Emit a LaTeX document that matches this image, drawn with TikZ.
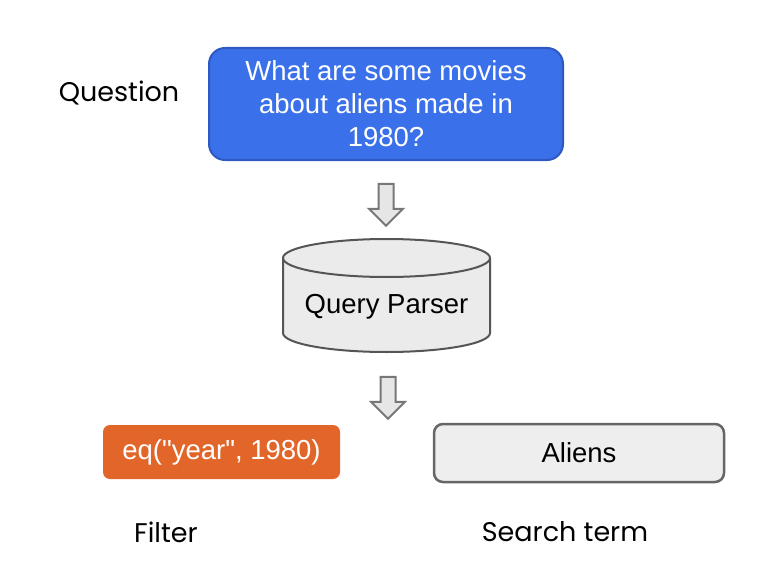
\documentclass[tikz,border=0pt]{standalone}
\usepackage{fontspec}
\setmainfont{Liberation Sans}
% same face without TeX ligature mapping, so that " stays a straight quote
\newfontfamily\codefont{Liberation Sans}
\newfontfamily\popfont{Poppins}
\usetikzlibrary{shapes.arrows}

\definecolor{qblue}{HTML}{3A70EA}
\definecolor{qblueedge}{HTML}{2E58C2}
\definecolor{filterorange}{HTML}{E2662A}
\definecolor{boxgray}{HTML}{EEEEEE}
\definecolor{edgegray}{HTML}{666666}
\definecolor{cylfill}{HTML}{EBEBEB}
\definecolor{cyledge}{HTML}{555555}
\definecolor{arrowfill}{HTML}{E6E6E6}
\definecolor{arrowedge}{HTML}{777777}

\tikzset{
  boxtext/.style={font=\fontsize{27.5}{33}\selectfont, align=center},
  label/.style={font=\popfont\fontsize{27}{30}\selectfont, text=black},
  questionbox/.style={boxtext, text=white, fill=qblue, draw=qblueedge, line width=2pt,
    rounded corners=16pt, minimum width=354pt, minimum height=112pt, inner sep=0pt},
  filterbox/.style={boxtext, font=\codefont\fontsize{27.5}{33}\selectfont, text=white,
    fill=filterorange, rounded corners=7pt,
    minimum width=237pt, minimum height=54pt, inner sep=0pt},
  termbox/.style={boxtext, text=black, fill=boxgray, draw=edgegray, line width=2.5pt,
    rounded corners=9pt, minimum width=290pt, minimum height=58pt, inner sep=0pt},
  blockarrow/.style={single arrow, shape border rotate=270, fill=arrowfill, draw=arrowedge,
    line width=2pt, inner sep=6.5pt, minimum height=42pt, minimum width=32pt,
    single arrow head extend=9.5pt, single arrow head indent=0pt},
  cylinderstyle/.style={fill=cylfill, draw=cyledge, line width=2pt}
}

\begin{document}
\begin{tikzpicture}[x=1pt,y=1pt]
  \useasboundingbox[fill=white] (0,0) rectangle (765,-583);

  % question
  \node[label] (qlabel) at (119,-93) {Question};
  \node[questionbox] (question) at (386,-104)
    {What are some movies\\about aliens made in\\1980?};

  % query parser drum
  \path[cylinderstyle] (283,-333) arc (180:360:103.5 and 19)
    -- (490,-258) arc (0:180:103.5 and 19) -- cycle;
  \draw[cylinderstyle, fill=none] (283,-258) arc (180:360:103.5 and 19);
  \node[boxtext, text=black] (parser) at (386.5,-307) {Query Parser};

  % flow arrows
  \node[blockarrow] (arrowA) at (386,-201) {};
  \node[blockarrow] (arrowB) at (388,-394) {};

  % outputs
  \node[filterbox] (filter) at (221.5,-452) {eq("year", 1980)};
  \node[termbox] (term) at (579,-453) {Aliens};

  \node[label] (flabel) at (166,-532) {Filter};
  \node[label] (tlabel) at (565,-532) {Search term};
\end{tikzpicture}
\end{document}
